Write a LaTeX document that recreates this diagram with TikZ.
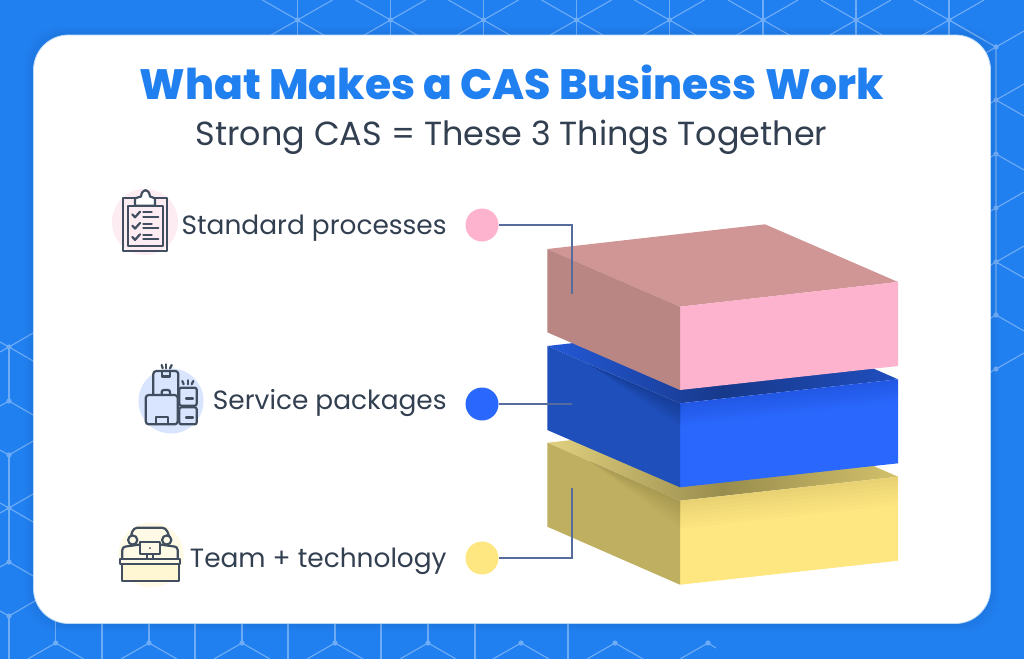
\documentclass[tikz,border=0pt]{standalone}
\usepackage{fontspec}
\usetikzlibrary{positioning}
\setmainfont{Poppins}
\newfontfamily\titlefont{Poppins ExtraBold}
\definecolor{bgblue}{HTML}{2180F0}
\definecolor{hexblue}{HTML}{6FACF6}
\definecolor{inkdark}{HTML}{323F50}
\definecolor{iconink}{HTML}{414E60}
\definecolor{leadblue}{HTML}{566C9C}
\definecolor{pinkfront}{HTML}{FDB2CD}
\definecolor{pinktop}{HTML}{D09696}
\definecolor{pinkleft}{HTML}{B98684}
\definecolor{bluefront}{HTML}{2A68FD}
\definecolor{blueleft}{HTML}{1F4FBB}
\definecolor{yellowfront}{HTML}{FEE781}
\definecolor{yellowleft}{HTML}{BFB061}
\tikzset{
  hexline/.style={hexblue,line width=1.1pt},
  hexdot/.style={fill=hexblue},
  dotnode/.style={circle,minimum size=33pt,inner sep=0pt},
  leader/.style={leadblue,line width=1.2pt},
  itemlabel/.style={inner sep=0pt,text=inkdark,font=\fontsize{26.4}{26.4}\selectfont},
  icon/.style={iconink,line width=2.2pt,line join=round,line cap=round},
}
\begin{document}
\begin{tikzpicture}[x=1pt,y=-1pt]
  \useasboundingbox (0,0) rectangle (1024,659);
  \clip (0,0) rectangle (1024,659);
  \fill[bgblue] (0,0) rectangle (1024,659);
  % hexagons along the top
  \foreach \x in {297.5,390.5,483.5,576.5,669.5,763,856,949} {
    \draw[hexline] (\x-35,0) -- (\x+35,40);
    \draw[hexline] (\x+35,0) -- (\x-35,40);
    \draw[hexline] (\x,0) -- (\x,40);
    \fill[hexdot] (\x,20) circle [radius=2.6];
  }
  % right side
  \draw[hexline] (949,20) -- (996,47) -- (996,315);
  \draw[hexline] (996,47) -- (1024,31);
  \foreach \y in {100,208,262,369} \draw[hexline] (996,\y) -- (1024,\y-16);
  \foreach \y in {100,154,262,315} \draw[hexline] (996,\y) -- (1024,\y+16);
  \foreach \y in {47,100,154,208,262,315,369} {
    \draw[hexline] (996,\y) -- (984,\y+7);
    \fill[hexdot] (996,\y) circle [radius=2.6];
  }
  % left side
  \draw[hexline] (9,347) -- (9,401);
  \draw[hexline] (9,455) -- (9,562);
  \draw[hexline] (9,616) -- (9,659);
  \foreach \y in {347,455,508,616} \draw[hexline] (0,\y-5) -- (9,\y) -- (40,\y-18);
  \foreach \y in {347,401,508,562} \draw[hexline] (0,\y+5) -- (9,\y) -- (40,\y+18);
  \foreach \y in {347,401,455,508,562,616} \fill[hexdot] (9,\y) circle [radius=2.6];
  % bottom
  \foreach \x in {9,102,195,288,381,475,568} \draw[hexline] (\x,615) -- (\x,659);
  \foreach \x in {55.7,149,242,335,428,521,615} {
    \draw[hexline] (\x-28,659) -- (\x,643) -- (\x+28,659);
  }
  \foreach \x in {55.7,149,242,335,428} \draw[hexline] (\x,615) -- (\x,643);
  \draw[hexline] (680,659) -- (708,643) -- (716,648);
  \foreach \x in {55.7,149,242,335,428,521,615,708} \fill[hexdot] (\x,643) circle [radius=2.6];
  % card
  \foreach \g in {9,7,5,3} \fill[black,opacity=.012,rounded corners=36pt] (33.5-\g,35-\g) rectangle (990.5+\g,623.5+\g);
  \fill[white,draw=white!70!bgblue,line width=.8pt,rounded corners=35pt] (33.5,35) rectangle (990.5,623.5);
  \node[inner sep=0pt,anchor=base,text=bgblue,font=\titlefont\fontsize{42.4}{42.4}\selectfont] (title) at (512,99) {What Makes a CAS Business Work};
  \node[inner sep=0pt,anchor=base,text=inkdark,font=\fontsize{33.4}{33.4}\selectfont] (subtitle) at (511.5,145) {Strong CAS = These 3 Things Together};
  % yellow block
  \shade[left color=yellowleft!50!yellowfront!90!white,right color=yellowleft!70!yellowfront,middle color=yellowleft!80!black] (547.3,442.7) -- (765,418.7) -- (898,476.7) -- (680,500.7) -- cycle;
  \fill[yellowfront] (680,500.7) -- (898,476.7) -- (898,560.7) -- (680,584.7) -- cycle;
  \fill[yellowleft] (547.3,442.7) -- (680,500.7) -- (680,584.7) -- (547.3,526.7) -- cycle;
  \foreach \h in {4,8,...,28} {
    \fill[black,opacity=.012] (680,500.7) -- (898,476.7) -- (898,476.7+\h) -- (680,500.7+\h) -- cycle;
    \fill[black,opacity=.015] (590,461.4) -- (680,500.7) -- (680,500.7+\h) -- cycle;
  }
  % blue block
  \shade[left color=bluefront!85!black,right color=bluefront!75!black,middle color=bluefront!55!black] (547.3,346) -- (765,321.3) -- (898,379.3) -- (680,403.3) -- cycle;
  \fill[bluefront] (680,403.3) -- (898,379.3) -- (898,463.3) -- (680,487.3) -- cycle;
  \fill[blueleft] (547.3,346) -- (680,403.3) -- (680,487.3) -- (547.3,430) -- cycle;
  \foreach \h in {3,6,...,24} {
    \fill[black,opacity=.012] (680,403.3) -- (898,379.3) -- (898,379.3+\h) -- (680,403.3+\h) -- cycle;
    \fill[black,opacity=.02] (590,365) -- (680,403.3) -- (680,403.3+\h) -- cycle;
  }
  % pink block
  \fill[pinktop] (547.3,249) -- (765,224.3) -- (898,282) -- (680,306.7) -- cycle;
  \fill[pinkfront] (680,306.7) -- (898,282) -- (898,366) -- (680,390) -- cycle;
  \fill[pinkleft] (547.3,249) -- (680,306.7) -- (680,390) -- (547.3,332.3) -- cycle;
  % dots, labels, leaders
  \node[dotnode,fill=pinkfront] (pinkdot) at (482,225) {};
  \node[dotnode,fill=bluefront] (bluedot) at (482,404) {};
  \node[dotnode,fill=yellowfront] (yellowdot) at (482,558) {};
  \node[itemlabel,left=18.5pt of pinkdot,yshift=-3pt] (standardlabel) {Standard processes};
  \node[itemlabel,left=18.5pt of bluedot,yshift=.5pt] (servicelabel) {Service packages};
  \node[itemlabel,left=18.5pt of yellowdot,yshift=-3.5pt] (teamlabel) {Team + technology};
  \coordinate (pinkend) at (572,294);
  \coordinate (blueend) at (572,404);
  \coordinate (yellowend) at (572,488);
  \draw[leader] (pinkdot) -| (pinkend);
  \draw[leader] (bluedot) -- (blueend);
  \draw[leader] (yellowdot) -| (yellowend);
  % clipboard icon
  \fill[pinkfront!25!white] (145,222) circle [radius=33];
  \draw[icon] (123.3,198.3) rectangle (166.7,251);
  \draw[icon] (128,205.7) rectangle (162.7,246);
  \draw[icon,fill=white] (135,205.7) -- (135,198.3) -- (141,196.5) .. controls (142,188) and (149,188) .. (150,196.5) -- (155,198.3) -- (155,205.7) -- cycle;
  \foreach \d in {0,11.3,22.6} {
    \draw[icon] (132.3,214.3+\d) -- (135,217.3+\d) -- (140,211.7+\d);
    \draw[icon] (143.3,212.3+\d) -- (151.7,212.3+\d);
    \draw[icon] (143.3,216.7+\d) -- (158.3,216.7+\d);
  }
  % packages icon
  \fill[bluefront!18!white] (171,401) circle [radius=32.5];
  \draw[icon,rounded corners=3pt] (153.3,395) -- (153.3,371) -- (178.3,371) -- (178.3,395);
  \draw[icon] (161.7,371) -- (161.7,376.5) -- (170,376.5) -- (170,371);
  \draw[icon,rounded corners=2pt] (161.7,395) -- (161.7,390) -- (170,390) -- (170,395);
  \draw[icon,rounded corners=3pt] (145.7,395) rectangle (177.7,424.3);
  \draw[icon] (155.7,424.3) -- (155.7,416.7) -- (167.7,416.7) -- (167.7,424.3);
  \draw[icon,rounded corners=2pt] (179.3,387.7) rectangle (196.7,405.7);
  \draw[icon,rounded corners=2pt] (179.3,407.3) rectangle (196.7,424.3);
  \draw[icon] (186,398.5) -- (193,398.5);
  \draw[icon] (186,417.5) -- (193,417.5);
  \draw[icon] (161.7,365) -- (162.7,368.3);
  \draw[icon] (166.3,364.3) -- (166.3,368.3);
  \draw[icon] (171.7,365) -- (170,368.3);
  \draw[icon] (182.3,381) -- (183.7,384.3);
  \draw[icon] (187.7,380.3) -- (187.7,384.3);
  \draw[icon] (193.3,381) -- (191.7,384.3);
  % team icon
  \fill[yellowfront!20!white] (151,555) circle [radius=32.5];
  \draw[icon,rounded corners=4pt] (131,536) -- (133.5,527.7) -- (166,527.7) -- (169,536);
  \draw[icon] (132.7,540) circle [radius=4.6];
  \draw[icon] (166.7,540) circle [radius=4.6];
  \draw[icon,rounded corners=3pt] (122.3,558) -- (122.3,547) -- (140,544.5);
  \draw[icon,rounded corners=3pt] (177.7,558) -- (177.7,547) -- (160,544.5);
  \draw[icon] (140,541.7) rectangle (160,554.3);
  \fill[iconink] (150,548) circle [radius=1];
  \draw[icon] (146.7,554.3) -- (146.7,559);
  \draw[icon] (153,554.3) -- (153,559);
  \draw[icon] (120,559) rectangle (180,563.7);
  \draw[icon,fill=yellowfront!35!white] (121.7,563.7) rectangle (179,581);
\end{tikzpicture}
\end{document}
